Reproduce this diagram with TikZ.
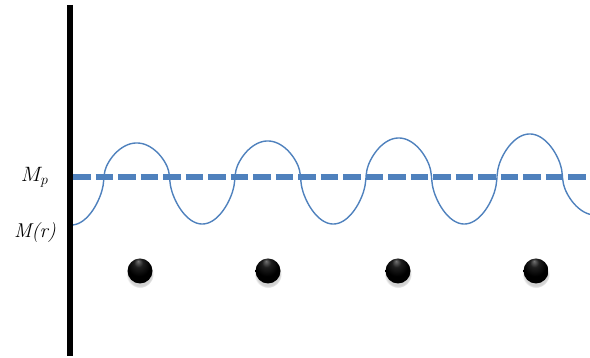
\documentclass[tikz,border=0pt]{standalone}
\usetikzlibrary{shadows}
\definecolor{wavecol}{RGB}{79,129,189}
\pgfdeclareradialshading{beadshade}{\pgfpoint{-4bp}{20bp}}{color(0bp)=(black!55);
  color(9bp)=(black!88); color(22bp)=(black); color(50bp)=(black)}
\tikzset{
  wall/.style={line width=6.5pt,black},
  meanline/.style={line width=5.5pt,wavecol,dash pattern=on 17.5pt off 5pt},
  wave/.style={line width=1.4pt,wavecol,line join=round},
  bead/.style={circle,minimum size=25pt,inner sep=0pt,shading=beadshade,
    circular drop shadow={shadow xshift=0pt,shadow yshift=-3pt,opacity=0.35,shadow scale=1.1}},
  lbl/.style={font=\fontsize{20}{24}\selectfont,inner sep=0pt,anchor=base west},
}

\begin{document}
\begin{tikzpicture}[x=1pt,y=1pt]
  \useasboundingbox (0,0) rectangle (590,358);
  \clip (0,0) rectangle (590,358);
  % mean value
  \draw[meanline] (73,181) -- (590,181);
  % modulated value, one half wave per entry: start / amplitude
  \begin{scope}
    \clip (70,0) rectangle (590,358);
    \draw[wave] (38.5,181)
      \foreach \xs/\a in {38.5/-48,104/34,169.5/-47,235/36,300.5/-47,
                          366/39,431.5/-47,497/43,562.5/-38} {
        -- plot[domain=0.05:179.95,samples=73]
             ({\xs+\x/180*65.5},{181+\a*abs(sin(\x))^0.55})
      };
  \end{scope}
  % wall
  \coordinate (walltop) at (70,353);
  \coordinate (wallbot) at (70,2);
  \draw[wall] (walltop) -- (wallbot);
  % beads
  \foreach \x [count=\i] in {140,268,398,536}
    \node[bead] (bead\i) at (\x,87) {};
  % labels
  \node[lbl] (mp) at (21,176.3) {$M_p$};
  \node[lbl] (mr) at (14,120.7) {\textit{M(r)}};
\end{tikzpicture}
\end{document}
